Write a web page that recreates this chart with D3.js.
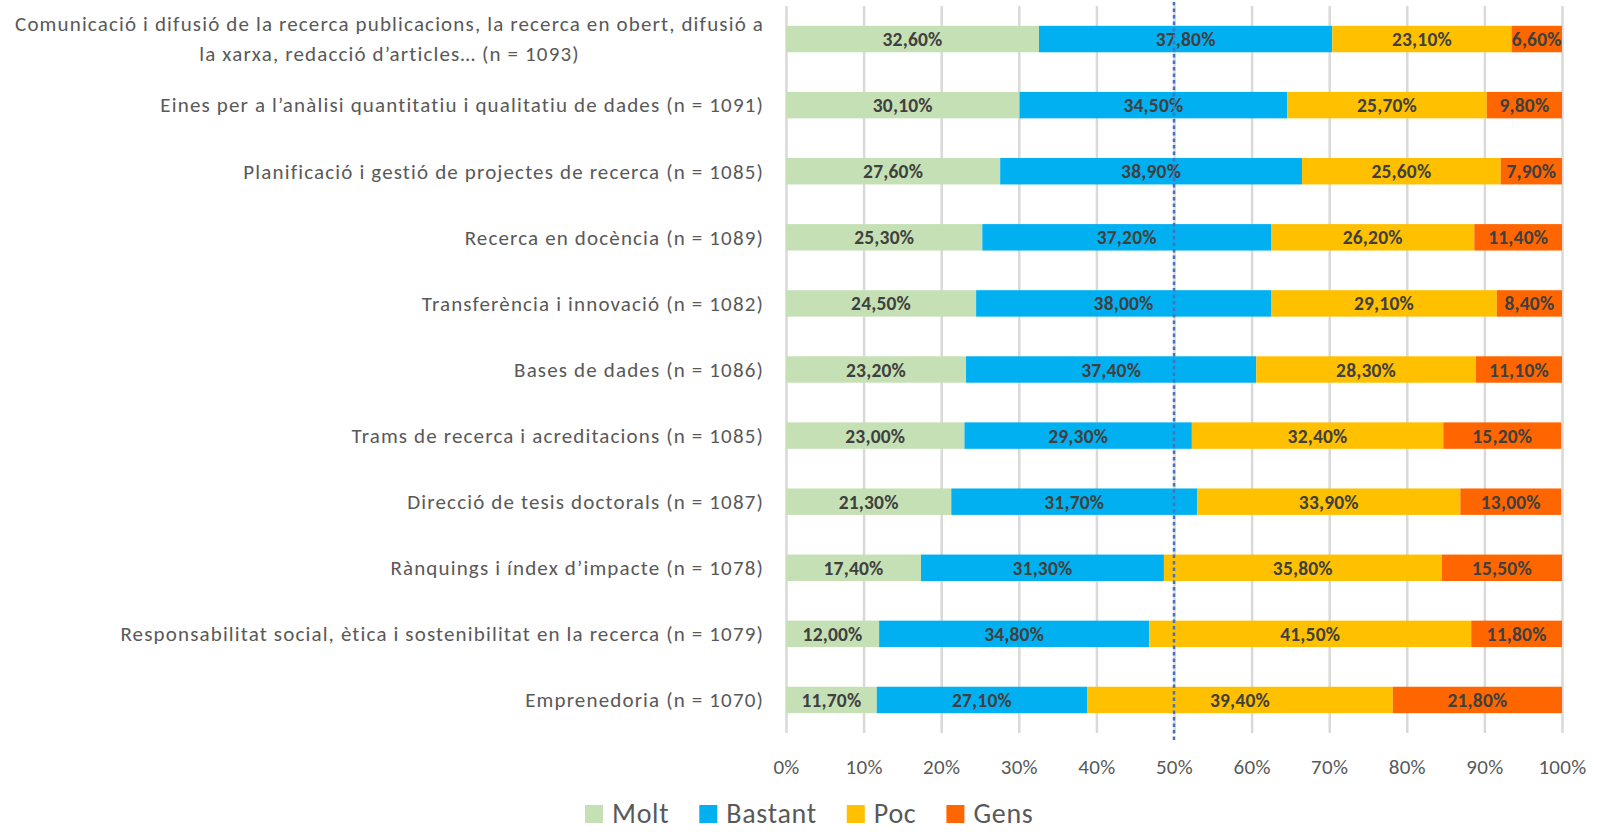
<!DOCTYPE html>
<html>
<head>
<meta charset="utf-8">
<script src="https://cdn.jsdelivr.net/npm/d3@7"></script>
<style>
  html, body { margin: 0; padding: 0; background: #fff; }
  svg { display: block; font-family: Carlito, Lato, sans-serif; }
</style>
</head>
<body>
<svg id="chart" width="1608" height="832"></svg>
<script>
var categories = [
    ["Comunicació i difusió de la recerca publicacions, la recerca en obert, difusió a", "la xarxa, redacció d’articles… (n = 1093)"],
    ["Eines per a l’anàlisi quantitatiu i qualitatiu de dades (n = 1091)"],
    ["Planificació i gestió de projectes de recerca (n = 1085)"],
    ["Recerca en docència (n = 1089)"],
    ["Transferència i innovació (n = 1082)"],
    ["Bases de dades (n = 1086)"],
    ["Trams de recerca i acreditacions (n = 1085)"],
    ["Direcció de tesis doctorals (n = 1087)"],
    ["Rànquings i índex d’impacte (n = 1078)"],
    ["Responsabilitat social, ètica i sostenibilitat en la recerca (n = 1079)"],
    ["Emprenedoria (n = 1070)"]
];

var seriesNames = ["Molt", "Bastant", "Poc", "Gens"];
var seriesColors = ["#C5E0B4", "#00B0F0", "#FFC000", "#FF6600"];

var molt    = [32.6, 30.1, 27.6, 25.3, 24.5, 23.2, 23.0, 21.3, 17.4, 12.0, 11.7];
var bastant = [37.8, 34.5, 38.9, 37.2, 38.0, 37.4, 29.3, 31.7, 31.3, 34.8, 27.1];
var poc     = [23.1, 25.7, 25.6, 26.2, 29.1, 28.3, 32.4, 33.9, 35.8, 41.5, 39.4];
var gens    = [6.6, 9.8, 7.9, 11.4, 8.4, 11.1, 15.2, 13.0, 15.5, 11.8, 21.8];

var xTicks = [0, 0.1, 0.2, 0.3, 0.4, 0.5, 0.6, 0.7, 0.8, 0.9, 1];
var refLine = 0.5;

(function() {
    var svg = d3.select("#chart");
    var left = 786, right = 1562, top = 6, bottom = 733;

    var rows = categories.map(function(c, i) {
        return {key: i, lines: c, Molt: molt[i], Bastant: bastant[i], Poc: poc[i], Gens: gens[i]};
    });

    var x = d3.scaleLinear().domain([0, 1]).range([left, right]);
    var y = d3.scaleBand()
        .domain(rows.map(function(d) { return d.key; }))
        .range([top, bottom])
        .paddingInner(0.6)
        .paddingOuter(0.3);
    var color = d3.scaleOrdinal().domain(seriesNames).range(seriesColors);

    var pct = d3.formatLocale({decimal: ",", thousands: ".", grouping: [3], currency: ["", "€"]});
    var fmtLabel = function(v) { return pct.format(".2f")(v) + "%"; };

    // gridlines + tick labels
    var axis = d3.axisBottom(x)
        .tickValues(xTicks)
        .tickFormat(d3.format(".0%"))
        .tickSize(-(bottom - top))
        .tickPadding(26);
    var gx = svg.append("g")
        .attr("transform", "translate(0," + bottom + ")")
        .call(axis);
    gx.select(".domain").remove();
    gx.selectAll(".tick line")
        .attr("stroke", "#D9D9D9")
        .attr("stroke-width", 2.5);
    gx.selectAll(".tick text")
        .attr("fill", "#595959")
        .style("font-size", "21px")
        .style("letter-spacing", "0.3px")
        .style("font-family", "Carlito, Lato, sans-serif");

    // stacked bars
    var stack = d3.stack().keys(seriesNames)(rows.map(function(d) {
        var o = {key: d.key};
        seriesNames.forEach(function(s) { o[s] = d[s] / 100; });
        return o;
    }));

    var layers = svg.append("g").selectAll("g")
        .data(stack)
        .enter()
        .append("g")
        .attr("fill", function(d) { return color(d.key); });

    layers.selectAll("rect")
        .data(function(d) { return d; })
        .enter()
        .append("rect")
        .attr("x", function(d) { return x(d[0]); })
        .attr("y", function(d) { return y(d.data.key); })
        .attr("width", function(d) { return Math.min(x(d[1]), right) - x(d[0]); })
        .attr("height", y.bandwidth());

    layers.selectAll("text")
        .data(function(d) { var k = d.key; return d.map(function(p) { p.series = k; return p; }); })
        .enter()
        .append("text")
        .attr("x", function(d) { return (x(d[0]) + Math.min(x(d[1]), right)) / 2; })
        .attr("y", function(d) { return y(d.data.key) + y.bandwidth() / 2; })
        .attr("dy", "0.36em")
        .attr("text-anchor", "middle")
        .attr("fill", "#404040")
        .style("font-size", "19.5px")
        .style("font-weight", "bold")
        .style("letter-spacing", "0.2px")
        .text(function(d) { return fmtLabel(d.data[d.series] * 100); });

    // 50% reference line
    svg.append("line")
        .attr("x1", x(refLine)).attr("x2", x(refLine))
        .attr("y1", 2).attr("y2", 743)
        .attr("stroke", "#4472C4")
        .attr("stroke-width", 2.5)
        .attr("stroke-dasharray", "3.5,3");

    // category labels
    var lineH = 30;
    var cats = svg.append("g").selectAll("text")
        .data(rows)
        .enter()
        .append("text")
        .attr("fill", "#595959")
        .style("font-size", "21px")
        .style("letter-spacing", "1.15px");

    cats.each(function(d) {
        var t = d3.select(this);
        var cy = y(d.key) + y.bandwidth() / 2;
        var n = d.lines.length;
        d.lines.forEach(function(line, j) {
            t.append("tspan")
                .attr("y", cy + (j - (n - 1) / 2) * lineH)
                .attr("dy", "0.35em")
                .text(line);
        });
        var maxW = 0;
        t.selectAll("tspan").each(function() {
            maxW = Math.max(maxW, this.getComputedTextLength());
        });
        var cx = left - 22 - maxW / 2;
        t.attr("text-anchor", "middle");
        t.selectAll("tspan").attr("x", cx);
    });

    // legend
    var legend = svg.append("g").attr("transform", "translate(585,813)");
    var lx = 0;
    seriesNames.forEach(function(s) {
        var g = legend.append("g").attr("transform", "translate(" + lx + ",0)");
        g.append("rect")
            .attr("x", 0).attr("y", -8)
            .attr("width", 18).attr("height", 18)
            .attr("fill", color(s));
        var t = g.append("text")
            .attr("x", 27)
            .attr("dy", "0.35em")
            .attr("fill", "#595959")
            .style("font-size", "28px")
            .style("letter-spacing", "0.7px")
            .text(s);
        lx += 27 + t.node().getComputedTextLength() + 30;
    });
})();
</script>
</body>
</html>
